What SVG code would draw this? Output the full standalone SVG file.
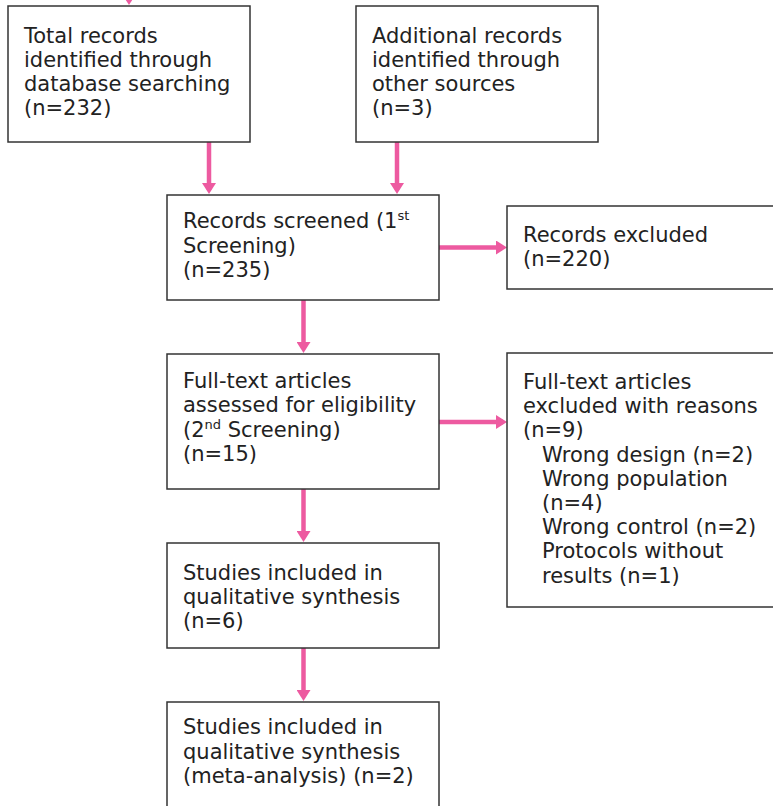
<svg xmlns="http://www.w3.org/2000/svg" width="773" height="806" viewBox="0 0 773 806">
<style>
.box{fill:#fff;stroke:#333;stroke-width:1.5}
.t{font-family:"DejaVu Sans","Noto Sans CJK JP",sans-serif;font-size:21px;fill:#222}
.sup{font-size:13px}
.arr{stroke:#ED5AA0;stroke-width:4.5;fill:none;marker-end:url(#ah)}
</style>
<defs>
<marker id="ah" markerUnits="userSpaceOnUse" viewBox="0 0 11 14" markerWidth="11" markerHeight="14" refX="7" refY="7" orient="auto">
<path d="M0,0 L11,7 L0,14 z" fill="#ED5AA0"/>
</marker>
</defs>
<rect width="773" height="806" fill="#fff"/>
<g id="connectors">
<line class="arr" x1="129" y1="-30" x2="129" y2="1"/>
<line class="arr" x1="209" y1="142" x2="209" y2="190"/>
<line class="arr" x1="397" y1="142" x2="397" y2="190"/>
<line class="arr" x1="439" y1="247.5" x2="503" y2="247.5"/>
<line class="arr" x1="303.5" y1="300" x2="303.5" y2="349"/>
<line class="arr" x1="439" y1="422" x2="503" y2="422"/>
<line class="arr" x1="303.5" y1="489" x2="303.5" y2="538"/>
<line class="arr" x1="303.5" y1="648" x2="303.5" y2="697"/>
</g>
<g id="n1">
<rect class="box" x="8" y="6" width="242" height="136"/>
<text class="t" x="24" y="43">Total records</text>
<text class="t" x="24" y="67">identified through</text>
<text class="t" x="24" y="91">database searching</text>
<text class="t" x="24" y="115">(n=232)</text>
</g>
<g id="n2">
<rect class="box" x="356" y="6" width="242" height="136"/>
<text class="t" x="372" y="43">Additional records</text>
<text class="t" x="372" y="67">identified through</text>
<text class="t" x="372" y="91">other sources</text>
<text class="t" x="372" y="115">(n=3)</text>
</g>
<g id="n3">
<rect class="box" x="167" y="195" width="272" height="105"/>
<text class="t" x="183" y="228">Records screened (1<tspan class="sup" dy="-8">st</tspan></text>
<text class="t" x="183" y="253">Screening)</text>
<text class="t" x="183" y="277">(n=235)</text>
</g>
<g id="n4">
<rect class="box" x="507" y="206" width="280" height="83"/>
<text class="t" x="523" y="242">Records excluded</text>
<text class="t" x="523" y="266">(n=220)</text>
</g>
<g id="n5">
<rect class="box" x="167" y="354" width="272" height="135"/>
<text class="t" x="183" y="388">Full-text articles</text>
<text class="t" x="183" y="412">assessed for eligibility</text>
<text class="t" x="183" y="437">(2<tspan class="sup" dy="-8">nd</tspan><tspan dy="8"> Screening)</tspan></text>
<text class="t" x="183" y="461">(n=15)</text>
</g>
<g id="n6">
<rect class="box" x="507" y="353" width="280" height="254"/>
<text class="t" x="523" y="389">Full-text articles</text>
<text class="t" x="523" y="413">excluded with reasons</text>
<text class="t" x="523" y="437">(n=9)</text>
<text class="t" x="542" y="462">Wrong design (n=2)</text>
<text class="t" x="542" y="486">Wrong population</text>
<text class="t" x="542" y="510">(n=4)</text>
<text class="t" x="542" y="534">Wrong control (n=2)</text>
<text class="t" x="542" y="558">Protocols without</text>
<text class="t" x="542" y="583">results (n=1)</text>
</g>
<g id="n7">
<rect class="box" x="167" y="543" width="272" height="105"/>
<text class="t" x="183" y="580">Studies included in</text>
<text class="t" x="183" y="604">qualitative synthesis</text>
<text class="t" x="183" y="628">(n=6)</text>
</g>
<g id="n8">
<rect class="box" x="167" y="702" width="272" height="115"/>
<text class="t" x="183" y="734">Studies included in</text>
<text class="t" x="183" y="759">qualitative synthesis</text>
<text class="t" x="183" y="783">(meta-analysis) (n=2)</text>
</g>
</svg>
